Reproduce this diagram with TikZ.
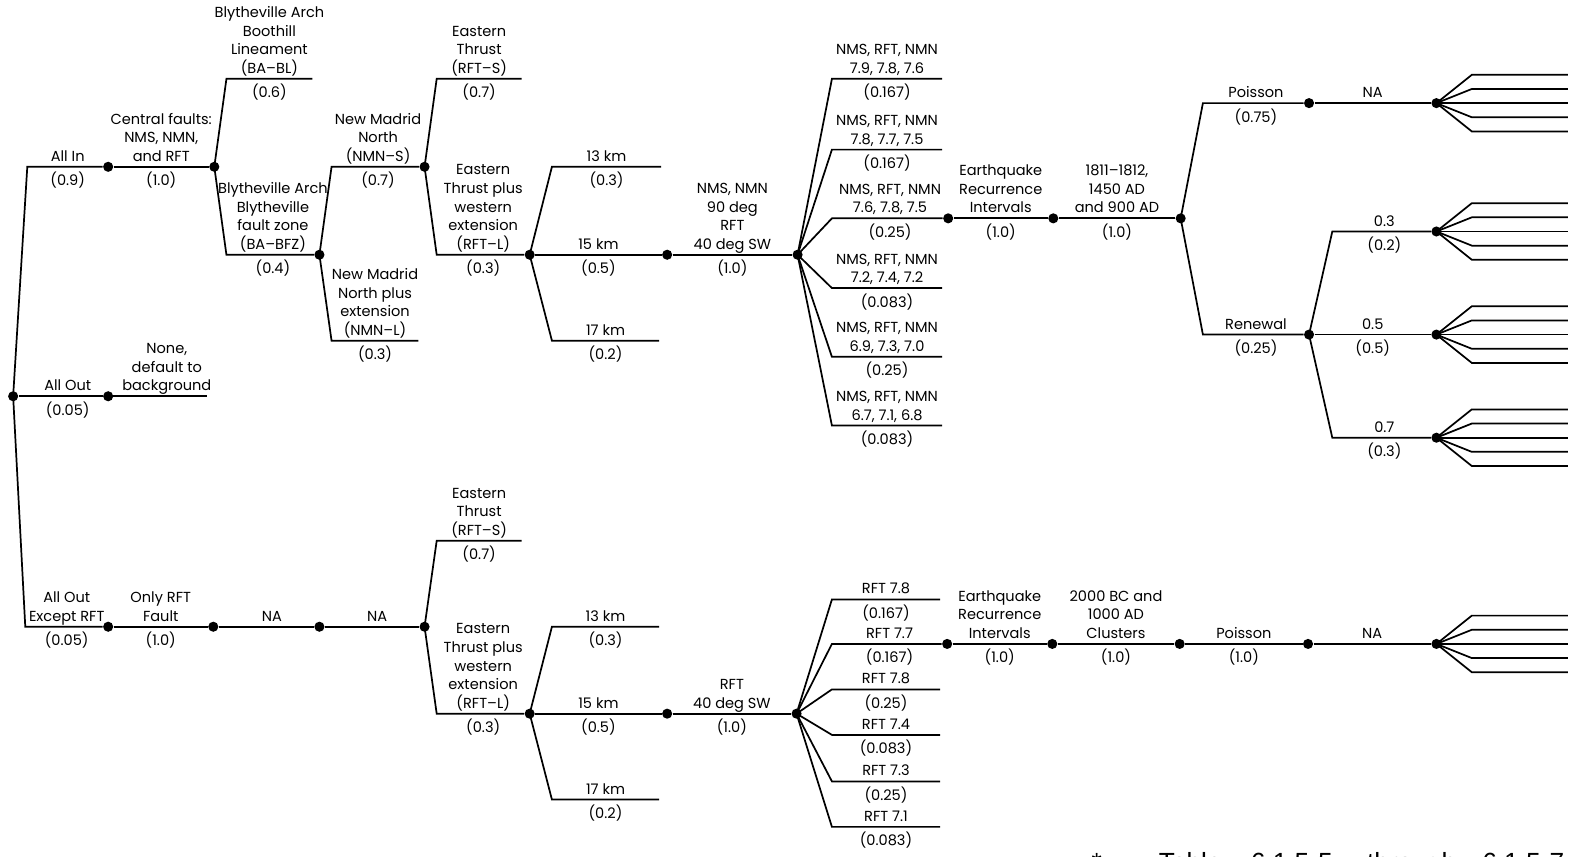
\documentclass[tikz,border=0pt]{standalone}
\usepackage{fontspec}
\setmainfont{Poppins}
\newfontfamily\fnfont{Liberation Sans}
\usetikzlibrary{calc}
\tikzset{
  dot/.style={circle,fill=black,inner sep=0pt,minimum size=5pt},
  ln/.style={line width=0.85pt,line join=miter},
  toplab/.style={anchor=south,inner sep=0pt,align=center,text depth=0pt,yshift=2.5pt,font=\fontsize{7.2}{9.2}\selectfont},
  botlab/.style={anchor=north,inner sep=0pt,yshift=-2.5pt,font=\fontsize{7.2}{9.2}\selectfont},
  fnt/.style={inner sep=0pt,anchor=base west,font=\fnfont\fontsize{13}{15}\selectfont}
}
\newcommand{\lbl}[5]{%
  \coordinate (#1-m) at ($(#2)!.5!(#3)$);
  \node[toplab] (#1-t) at (#1-m) {#4};
  \node[botlab] (#1-b) at (#1-m) {#5};
}
\newcommand{\lblt}[4]{%
  \coordinate (#1-m) at ($(#2)!.5!(#3)$);
  \node[toplab] (#1-t) at (#1-m) {#4};
}
\newcommand{\fan}[1]{%
  \foreach \o in {-28,-14,0,14,28}{\draw[ln] (#1.center) -- ++(35,\o) -- ++(95,0);}
}
\begin{document}
\begin{tikzpicture}[x=0.5pt,y=-0.5pt]
\useasboundingbox (0,0) rectangle (1568,847);
\fill[white] (0,0) rectangle (1568,847);
\begin{scope}
\clip (0,0) rectangle (1568,847);
% ---------- root ----------
\node[dot] (R) at (13,392) {};
% ---------- All In ----------
\coordinate (cAI) at (27,165);
\node[dot] (A1) at (107,165) {};
\draw[ln] (R.center) -- (cAI) -- (A1);
\lbl{ai}{cAI}{A1}{All In}{(0.9)}
\node[dot] (A2) at (212,165) {};
\draw[ln] (A1) -- (A2);
\lbl{cf}{A1}{A2}{Central faults:\\NMS, NMN,\\and RFT}{(1.0)}
% BA-BL
\coordinate (cBL) at (224,78);
\coordinate (eBL) at (309,78);
\draw[ln] (A2.center) -- (cBL) -- (eBL);
\lbl{bl}{cBL}{eBL}{Blytheville Arch\\Boothill\\Lineament\\(BA--BL)}{(0.6)}
% BA-BFZ
\coordinate (cBF) at (224,252);
\node[dot] (B) at (316,252) {};
\draw[ln] (A2.center) -- (cBF) -- (B);
\lbl{bf}{cBF}{B}{Blytheville Arch\\Blytheville\\fault zone\\(BA--BFZ)}{(0.4)}
% NMN-S
\coordinate (cNS) at (328,165);
\node[dot] (N) at (420,165) {};
\draw[ln] (B.center) -- (cNS) -- (N);
\lbl{ns}{cNS}{N}{New Madrid\\North\\(NMN--S)}{(0.7)}
% NMN-L
\coordinate (cNL) at (328,337);
\coordinate (eNL) at (414,337);
\draw[ln] (B.center) -- (cNL) -- (eNL);
\lbl{nl}{cNL}{eNL}{New Madrid\\North plus\\extension\\(NMN--L)}{(0.3)}
% RFT-S
\coordinate (cRS) at (432,78);
\coordinate (eRS) at (516,78);
\draw[ln] (N.center) -- (cRS) -- (eRS);
\lbl{rs}{cRS}{eRS}{Eastern\\Thrust\\(RFT--S)}{(0.7)}
% RFT-L
\coordinate (cRL) at (432,252);
\node[dot] (L) at (524,252) {};
\draw[ln] (N.center) -- (cRL) -- (L);
\lbl{rl}{cRL}{L}{Eastern\\Thrust plus\\western\\extension\\(RFT--L)}{(0.3)}
% depths
\coordinate (c13) at (546,165);
\coordinate (e13) at (654,165);
\draw[ln] (L.center) -- (c13) -- (e13);
\lbl{k13}{c13}{e13}{13 km}{(0.3)}
\node[dot] (K) at (660,252) {};
\draw[ln] (L) -- (K);
\lbl{k15}{L}{K}{15 km}{(0.5)}
\coordinate (c17) at (546,337);
\coordinate (e17) at (652,337);
\draw[ln] (L.center) -- (c17) -- (e17);
\lbl{k17}{c17}{e17}{17 km}{(0.2)}
% dip
\node[dot] (D) at (789,252) {};
\draw[ln] (K) -- (D);
\lbl{dip}{K}{D}{NMS, NMN\\90 deg\\RFT\\40 deg SW}{(1.0)}
% magnitudes
\coordinate (m1) at (823,78);  \coordinate (me1) at (932,78);
\coordinate (m2) at (823,148); \coordinate (me2) at (932,148);
\coordinate (m3) at (823,216); \node[dot] (E1) at (938,216) {};
\coordinate (m4) at (823,285); \coordinate (me4) at (932,285);
\coordinate (m5) at (823,353); \coordinate (me5) at (932,353);
\coordinate (m6) at (823,421); \coordinate (me6) at (932,421);
\draw[ln] (D.center) -- (m1) -- (me1);
\draw[ln] (D.center) -- (m2) -- (me2);
\draw[ln] (D.center) -- (m3) -- (E1);
\draw[ln] (D.center) -- (m4) -- (me4);
\draw[ln] (D.center) -- (m5) -- (me5);
\draw[ln] (D.center) -- (m6) -- (me6);
\lbl{mg1}{m1}{me1}{NMS, RFT, NMN\\7.9, 7.8, 7.6}{(0.167)}
\lbl{mg2}{m2}{me2}{NMS, RFT, NMN\\7.8, 7.7, 7.5}{(0.167)}
\lbl{mg3}{m3}{E1}{NMS, RFT, NMN\\7.6, 7.8, 7.5}{(0.25)}
\lbl{mg4}{m4}{me4}{NMS, RFT, NMN\\7.2, 7.4, 7.2}{(0.083)}
\lbl{mg5}{m5}{me5}{NMS, RFT, NMN\\6.9, 7.3, 7.0}{(0.25)}
\lbl{mg6}{m6}{me6}{NMS, RFT, NMN\\6.7, 7.1, 6.8}{(0.083)}
% recurrence
\node[dot] (E2) at (1042,216) {};
\draw[ln] (E1) -- (E2);
\lbl{eq}{E1}{E2}{Earthquake\\Recurrence\\Intervals}{(1.0)}
\node[dot] (E3) at (1168,216) {};
\draw[ln] (E2) -- (E3);
\lbl{yr}{E2}{E3}{1811--1812,\\1450 AD\\and 900 AD}{(1.0)}
% Poisson / Renewal
\coordinate (cP) at (1190,102);
\node[dot] (P1) at (1295,102) {};
\draw[ln] (E3.center) -- (cP) -- (P1);
\lbl{po}{cP}{P1}{Poisson}{(0.75)}
\node[dot] (P2) at (1421,102) {};
\draw[ln] (P1) -- (P2);
\lblt{pna}{P1}{P2}{NA}
\coordinate (cRn) at (1190,331);
\node[dot] (Rn) at (1295,331) {};
\draw[ln] (E3.center) -- (cRn) -- (Rn);
\lbl{rn}{cRn}{Rn}{Renewal}{(0.25)}
\coordinate (c03) at (1318,229);
\node[dot] (F1) at (1421,229) {};
\draw[ln] (Rn.center) -- (c03) -- (F1);
\lbl{r03}{c03}{F1}{0.3}{(0.2)}
\node[dot] (F2) at (1421,331) {};
\draw[ln] (Rn) -- (F2);
\lbl{r05}{Rn}{F2}{0.5}{(0.5)}
\coordinate (c07) at (1318,433);
\node[dot] (F3) at (1421,433) {};
\draw[ln] (Rn.center) -- (c07) -- (F3);
\lbl{r07}{c07}{F3}{0.7}{(0.3)}
\fan{P2}
\fan{F1}
\fan{F2}
\fan{F3}
% ---------- All Out ----------
\node[dot] (O1) at (107,392) {};
\coordinate (lO) at (27,392);
\draw[ln] (R) -- (O1);
\lbl{ao}{lO}{O1}{All Out}{(0.05)}
\coordinate (eO) at (205,392);
\coordinate (lO2) at (125,392);
\draw[ln] (O1.center) -- (eO);
\lblt{none}{lO2}{eO}{None,\\default to\\background}
% ---------- All Out Except RFT ----------
\coordinate (cX) at (25,620);
\node[dot] (X1) at (107,620) {};
\draw[ln] (R.center) -- (cX) -- (X1);
\lbl{aox}{cX}{X1}{All Out\\Except RFT}{(0.05)}
\node[dot] (X2) at (211,620) {};
\draw[ln] (X1) -- (X2);
\lbl{orf}{X1}{X2}{Only RFT\\Fault}{(1.0)}
\node[dot] (X3) at (316,620) {};
\draw[ln] (X2) -- (X3);
\coordinate (lX3) at (222,620);
\lblt{xna1}{lX3}{X3}{NA}
\node[dot] (X4) at (420,620) {};
\draw[ln] (X3) -- (X4);
\coordinate (lX4) at (326,620);
\lblt{xna2}{lX4}{X4}{NA}
\coordinate (cRS2) at (432,535);
\coordinate (eRS2) at (516,535);
\draw[ln] (X4.center) -- (cRS2) -- (eRS2);
\lbl{rs2}{cRS2}{eRS2}{Eastern\\Thrust\\(RFT--S)}{(0.7)}
\coordinate (cRL2) at (432,706);
\node[dot] (L2) at (524,706) {};
\draw[ln] (X4.center) -- (cRL2) -- (L2);
\lbl{rl2}{cRL2}{L2}{Eastern\\Thrust plus\\western\\extension\\(RFT--L)}{(0.3)}
\coordinate (c13b) at (546,620);
\coordinate (e13b) at (652,620);
\draw[ln] (L2.center) -- (c13b) -- (e13b);
\lbl{k13b}{c13b}{e13b}{13 km}{(0.3)}
\node[dot] (K2) at (660,706) {};
\draw[ln] (L2) -- (K2);
\lbl{k15b}{L2}{K2}{15 km}{(0.5)}
\coordinate (c17b) at (546,791);
\coordinate (e17b) at (652,791);
\draw[ln] (L2.center) -- (c17b) -- (e17b);
\lbl{k17b}{c17b}{e17b}{17 km}{(0.2)}
\node[dot] (D2) at (788,706) {};
\draw[ln] (K2) -- (D2);
\lbl{dip2}{K2}{D2}{RFT\\40 deg SW}{(1.0)}
\coordinate (n1) at (823,593); \coordinate (ne1) at (930,593);
\coordinate (n2) at (823,637); \node[dot] (G1) at (937,637) {};
\coordinate (n3) at (823,682); \coordinate (ne3) at (930,682);
\coordinate (n4) at (823,727); \coordinate (ne4) at (930,727);
\coordinate (n5) at (823,773); \coordinate (ne5) at (930,773);
\coordinate (n6) at (823,818); \coordinate (ne6) at (930,818);
\draw[ln] (D2.center) -- (n1) -- (ne1);
\draw[ln] (D2.center) -- (n2) -- (G1);
\draw[ln] (D2.center) -- (n3) -- (ne3);
\draw[ln] (D2.center) -- (n4) -- (ne4);
\draw[ln] (D2.center) -- (n5) -- (ne5);
\draw[ln] (D2.center) -- (n6) -- (ne6);
\lbl{rg1}{n1}{ne1}{RFT 7.8}{(0.167)}
\lbl{rg2}{n2}{G1}{RFT 7.7}{(0.167)}
\lbl{rg3}{n3}{ne3}{RFT 7.8}{(0.25)}
\lbl{rg4}{n4}{ne4}{RFT 7.4}{(0.083)}
\lbl{rg5}{n5}{ne5}{RFT 7.3}{(0.25)}
\lbl{rg6}{n6}{ne6}{RFT 7.1}{(0.083)}
\node[dot] (G2) at (1041,637) {};
\draw[ln] (G1) -- (G2);
\lbl{eq2}{G1}{G2}{Earthquake\\Recurrence\\Intervals}{(1.0)}
\node[dot] (G3) at (1167,637) {};
\draw[ln] (G2) -- (G3);
\lbl{cl}{G2}{G3}{2000 BC and\\1000 AD\\Clusters}{(1.0)}
\node[dot] (G4) at (1294,637) {};
\draw[ln] (G3) -- (G4);
\lbl{po2}{G3}{G4}{Poisson}{(1.0)}
\node[dot] (G5) at (1421,637) {};
\draw[ln] (G4) -- (G5);
\lblt{gna}{G4}{G5}{NA}
\fan{G5}
% ---------- footnote (cut by page edge, as in the reference) ----------
\node[fnt,anchor=base] (fn0) at (1085,862) {*};
\node[fnt] (fn1) at (1146,862) {Table};
\node[fnt] (fn2) at (1237,862) {6.1.5-5};
\node[fnt] (fn3) at (1352,862) {through};
\node[fnt] (fn4) at (1466,862) {6.1.5-7};
\end{scope}
\end{tikzpicture}
\end{document}
